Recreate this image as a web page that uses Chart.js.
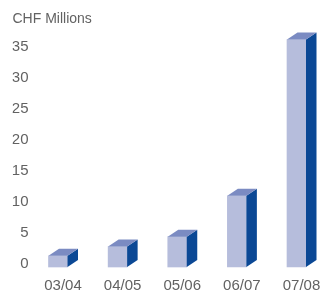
<!DOCTYPE html>
<html>
<head>
<meta charset="utf-8">
<script src="https://cdn.jsdelivr.net/npm/chart.js@4/dist/chart.umd.min.js"></script>
<style>
html,body{margin:0;padding:0;background:#fff;}
canvas{display:block;}
</style>
</head>
<body>
<canvas id="c" width="320" height="295"></canvas>
<script>
const categories = ["03/04", "04/05", "05/06", "06/07", "07/08"];
const values = [1.8, 3.3, 4.9, 11.5, 36.7];
const unitLabel = "CHF Millions";

const FRONT = "#b6bddc";
const SIDE = "#0b4895";
const TOP = "#7b8bc2";
const TEXT = "#626262";
const DX = 10.5, DY = 7;

const bar3d = {
  id: "bar3d",
  afterDatasetsDraw(chart) {
    const ctx = chart.ctx;
    chart.getDatasetMeta(0).data.forEach(el => {
      const p = el.getProps(["x", "y", "base", "width"], true);
      const l = p.x - p.width / 2, r = p.x + p.width / 2;
      ctx.save();
      ctx.fillStyle = SIDE;
      ctx.beginPath();
      ctx.moveTo(r, p.y); ctx.lineTo(r + DX, p.y - DY);
      ctx.lineTo(r + DX, p.base - DY); ctx.lineTo(r, p.base);
      ctx.closePath(); ctx.fill();
      ctx.fillStyle = TOP;
      ctx.beginPath();
      ctx.moveTo(l, p.y); ctx.lineTo(l + DX, p.y - DY);
      ctx.lineTo(r + DX, p.y - DY); ctx.lineTo(r, p.y);
      ctx.closePath(); ctx.fill();
      ctx.restore();
    });
  }
};

new Chart(document.getElementById("c"), {
  type: "bar",
  data: {
    labels: categories,
    datasets: [{
      data: values,
      backgroundColor: FRONT,
      borderWidth: 0,
      barThickness: 19,
      clip: false
    }]
  },
  options: {
    responsive: false,
    devicePixelRatio: 1,
    animation: false,
    layout: { autoPadding: false, padding: { left: 12.5, right: 23.5, top: 0, bottom: 0 } },
    plugins: {
      legend: { display: false },
      tooltip: { enabled: false },
      title: {
        display: true,
        text: unitLabel,
        align: "start",
        color: TEXT,
        font: { family: "Liberation Sans", size: 14, weight: "normal" },
        padding: { top: 11, bottom: 0 }
      }
    },
    scales: {
      x: {
        offset: false,
        grid: { display: false, drawTicks: false },
        border: { display: false },
        ticks: {
          color: TEXT,
          font: { family: "Liberation Sans", size: 15 },
          labelOffset: 5,
          padding: 10,
          maxRotation: 0,
          autoSkip: false
        },
        afterFit: s => { s.height = 28; s.paddingLeft = 0; s.paddingRight = 0; }
      },
      y: {
        min: 0,
        max: 38.6,
        grid: { display: false, drawTicks: false },
        border: { display: false },
        ticks: {
          stepSize: 5,
          includeBounds: false,
          color: TEXT,
          font: { family: "Liberation Sans", size: 15 },
          padding: 29.5,
          labelOffset: -3
        },
        afterFit: s => { s.width = 45.5; s.paddingTop = 0; s.paddingBottom = 0; }
      }
    }
  },
  plugins: [bar3d]
});
</script>
</body>
</html>
